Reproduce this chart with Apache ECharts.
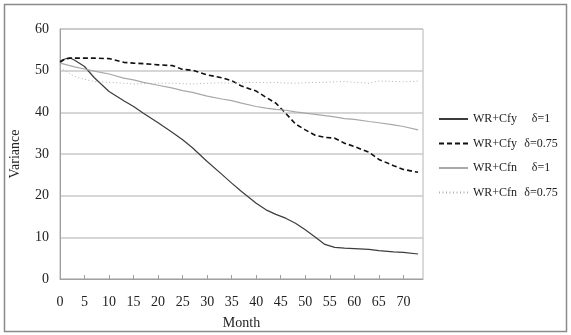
<!DOCTYPE html>
<html>
<head>
<meta charset="utf-8">
<script src="https://cdn.jsdelivr.net/npm/echarts@6/dist/echarts.min.js"></script>
<style>
  html, body { margin: 0; padding: 0; background: #fff; }
  #chart { width: 571px; height: 335px; }
</style>
</head>
<body>
<div id="chart"></div>
<script>
  const months = [0, 1, 2, 3, 5, 7, 10, 13, 15, 17, 20, 23, 25, 27, 30, 33, 35, 37, 40, 42, 44, 46, 48, 50, 52, 54, 56, 58, 60, 63, 65, 68, 70, 73]

  const cfy1 = [52.3, 52.8, 53.1, 52.5, 51, 48.3, 45, 42.8, 41.4, 39.8, 37.5, 35.1, 33.4, 31.5, 28.2, 25.1, 23, 21, 18.2, 16.6, 15.5, 14.6, 13.4, 11.8, 10.1, 8.3, 7.6, 7.4, 7.3, 7.1, 6.8, 6.5, 6.4, 6.0]
  const cfy075 = [52, 52.8, 53, 53, 53, 53, 52.9, 52.0, 51.8, 51.7, 51.4, 51.2, 50.3, 50.1, 49, 48.3, 47.6, 46.3, 45.1, 43.6, 42.2, 39.8, 37.2, 35.8, 34.5, 34, 33.8, 32.6, 31.8, 30.4, 28.7, 27.2, 26.3, 25.6]
  const cfn1 = [51.8, 51.5, 51.2, 50.9, 50.4, 49.9, 49.2, 48.2, 47.8, 47.2, 46.5, 45.8, 45.2, 44.8, 43.9, 43.2, 42.8, 42.2, 41.4, 41, 40.7, 40.5, 40.1, 39.8, 39.5, 39.2, 38.9, 38.5, 38.3, 37.8, 37.5, 37.0, 36.6, 35.8]
  const cfn075 = [50.8, 50, 49.3, 48.6, 47.9, 47.4, 47.2, 47, 46.8, 46.9, 47, 47, 46.9, 46.8, 47, 47.1, 47, 47.1, 47.2, 47.1, 47.2, 47, 47, 47.1, 47.2, 47.2, 47.3, 47.4, 47.2, 47, 47.5, 47.4, 47.3, 47.5]

  const names = ['WR+Cfy δ=1', 'WR+Cfy δ=0.75', 'WR+Cfn δ=1', 'WR+Cfn δ=0.75']

  const serif = "'Liberation Serif', 'Times New Roman', serif"

  const pairs = function (vals) {
    return months.map(function (m, i) { return [m, vals[i]] })
  }

  let chart = echarts.init(document.getElementById('chart'))

  const option = {
    animation: false,
    textStyle: { fontFamily: serif },
    graphic: [{
      type: 'rect',
      shape: { x: 4.5, y: 4.5, width: 562, height: 327 },
      style: { fill: 'none', stroke: '#8a8a8a', lineWidth: 1.5 },
      silent: true
    }],
    grid: {
      left: 53, right: 148, top: 29, bottom: 56,
      show: true, borderColor: '#b4b4b4', borderWidth: 1
    },
    legend: {
      orient: 'vertical',
      left: 433,
      top: 108,
      itemWidth: 29,
      itemHeight: 12,
      itemGap: 12.5,
      data: names,
      itemStyle: { opacity: 0 },
      formatter: function (n) {
        const p = n.split(' ')
        return '{a|' + p[0] + '}{b|' + p[1] + '}'
      },
      textStyle: {
        fontFamily: serif,
        color: '#222',
        rich: {
          a: { width: 50, fontSize: 12, fontFamily: serif, color: '#222' },
          b: { width: 36, align: 'center', fontSize: 12, fontFamily: serif, color: '#222' }
        }
      }
    },
    xAxis: {
      type: 'value',
      min: 0, max: 74, interval: 5,
      name: 'Month',
      nameLocation: 'middle',
      nameGap: 37,
      nameTextStyle: { fontSize: 14, fontFamily: serif, color: '#222' },
      axisLine: { lineStyle: { color: '#a0a0a0', width: 1 } },
      axisTick: { show: true, inside: true, length: 4, lineStyle: { color: '#a0a0a0' } },
      axisLabel: { fontSize: 14, fontFamily: serif, color: '#222', margin: 16, showMaxLabel: false },
      splitLine: { show: false }
    },
    yAxis: {
      type: 'value',
      min: 0, max: 60, interval: 10,
      name: 'Variance',
      nameLocation: 'middle',
      nameGap: 38,
      nameRotate: 90,
      nameTextStyle: { fontSize: 14, fontFamily: serif, color: '#222' },
      axisLine: { show: true, lineStyle: { color: '#a0a0a0', width: 1 } },
      axisTick: { show: false },
      axisLabel: { fontSize: 14, fontFamily: serif, color: '#222', margin: 11 },
      splitLine: { lineStyle: { color: '#c8c8c8', width: 1.5 } }
    },
    series: [
      {
        name: names[0], type: 'line', symbol: 'none', data: pairs(cfy1),
        lineStyle: { color: '#3c3c3c', width: 1.2 }, itemStyle: { color: '#3c3c3c' }
      },
      {
        name: names[1], type: 'line', symbol: 'none', data: pairs(cfy075),
        lineStyle: { color: '#111', width: 1.6, type: [5, 3] }, itemStyle: { color: '#111' }
      },
      {
        name: names[2], type: 'line', symbol: 'none', data: pairs(cfn1),
        lineStyle: { color: '#a8a8a8', width: 1.2 }, itemStyle: { color: '#a8a8a8' }
      },
      {
        name: names[3], type: 'line', symbol: 'none', data: pairs(cfn075),
        lineStyle: { color: '#b0b0b0', width: 1, type: [1, 2.5] }, itemStyle: { color: '#b0b0b0' }
      }
    ]
  }

  chart.setOption(option)
</script>
</body>
</html>
